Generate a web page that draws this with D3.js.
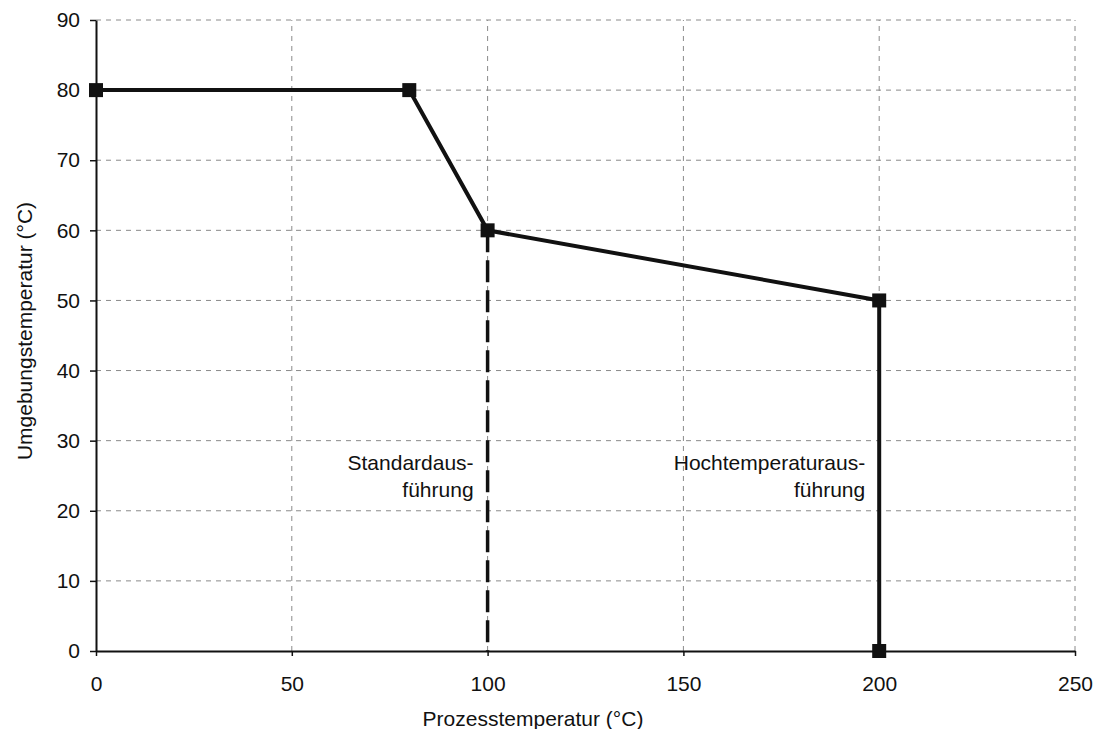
<!DOCTYPE html>
<html><head><meta charset="utf-8">
<script src="https://cdn.jsdelivr.net/npm/d3@7"></script>
<style>body{margin:0;background:#fff;} svg{display:block;font-family:"Liberation Sans",Arial,sans-serif;}</style>
</head><body><svg id="c" width="1106" height="729"></svg>
<script>
const processTemp = [0, 80, 100, 200, 200];
const ambientTemp = [80, 80, 60, 50, 0];
const standardLimitX = [100, 100];
const standardLimitY = [60, 0];
const xTicks = [0, 50, 100, 150, 200, 250];
const yTicks = [0, 10, 20, 30, 40, 50, 60, 70, 80, 90];
const annotations = [
  {x: 100, lines: ["Standardaus-", "führung"]},
  {x: 200, lines: ["Hochtemperaturaus-", "führung"]}
];

const svg = d3.select("#c");
const L = 96, R = 1075, T = 20, B = 651;
const FS = "21px";
const x = d3.scaleLinear().domain([0, 250]).range([L, R]);
const y = d3.scaleLinear().domain([0, 90]).range([B, T]);

// grid
const g = svg.append("g");
g.selectAll(".gx").data(xTicks.filter(d => d > 0)).join("line")
  .attr("x1", d => x(d)).attr("x2", d => x(d)).attr("y1", y(0)).attr("y2", y(90))
  .attr("stroke", "#8a8a8a").attr("stroke-width", 1).attr("stroke-dasharray", "5,5");
g.selectAll(".gy").data(yTicks.filter(d => d > 0)).join("line")
  .attr("x1", x(0)).attr("x2", x(250)).attr("y1", d => y(d)).attr("y2", d => y(d))
  .attr("stroke", "#8a8a8a").attr("stroke-width", 1).attr("stroke-dasharray", "5,5");

// axes
const xAxis = svg.append("g").attr("transform", `translate(0,${B})`)
  .call(d3.axisBottom(x).tickValues(xTicks).tickSize(5).tickSizeOuter(0).tickPadding(20));
const yAxis = svg.append("g").attr("transform", `translate(${L},0)`)
  .call(d3.axisLeft(y).tickValues(yTicks).tickSize(6).tickSizeOuter(0).tickPadding(10));
[xAxis, yAxis].forEach(a => {
  a.selectAll("path").attr("stroke", "#111").attr("stroke-width", 2);
  a.selectAll("line").attr("stroke", "#111").attr("stroke-width", 1.5);
  a.selectAll("text").attr("fill", "#111").style("font-size", FS).style("font-family", "Liberation Sans, Arial, sans-serif");
});

// dashed limit
svg.append("line")
  .attr("x1", x(standardLimitX[0])).attr("x2", x(standardLimitX[1]))
  .attr("y1", y(standardLimitY[0])).attr("y2", y(standardLimitY[1]))
  .attr("stroke", "#111").attr("stroke-width", 3.5).attr("stroke-dasharray", "22,8");

// main line
const pts = processTemp.map((v, i) => [v, ambientTemp[i]]);
svg.append("path").datum(pts)
  .attr("d", d3.line().x(d => x(d[0])).y(d => y(d[1])))
  .attr("fill", "none").attr("stroke", "#111").attr("stroke-width", 4).attr("stroke-linejoin", "miter");
const s = 14;
svg.selectAll(".m").data(pts).join("rect")
  .attr("x", d => x(d[0]) - s / 2).attr("y", d => y(d[1]) - s / 2)
  .attr("width", s).attr("height", s).attr("fill", "#111");

// annotations
annotations.forEach(a => {
  const t = svg.append("text").attr("text-anchor", "end")
    .attr("x", x(a.x) - 14).attr("y", 470)
    .style("font-size", FS).attr("fill", "#111");
  a.lines.forEach((ln, i) => t.append("tspan").attr("x", x(a.x) - 14).attr("dy", i ? 27 : 0).text(ln));
});

// axis titles
svg.append("text").attr("x", 533).attr("y", 726).attr("text-anchor", "middle")
  .style("font-size", FS).attr("fill", "#111").text("Prozesstemperatur (°C)");
svg.append("text").attr("transform", `translate(32,331) rotate(-90)`).attr("text-anchor", "middle")
  .style("font-size", FS).attr("fill", "#111").text("Umgebungstemperatur (°C)");
</script></body></html>
